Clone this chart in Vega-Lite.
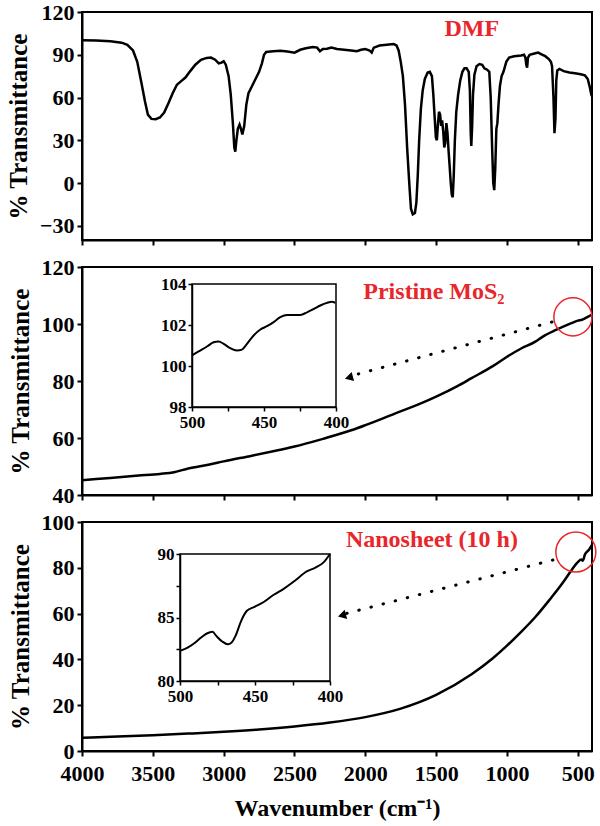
{
  "$schema": "https://vega.github.io/schema/vega-lite/v6.json",
  "background": "white",
  "padding": {"left": 5, "top": 0, "right": 5, "bottom": 0},
  "spacing": 27,
  "bounds": "flush",
  "datasets": {
    "dmf": [
      {"wn":4000,"T":100.2},{"wn":3900,"T":100},{"wn":3800,"T":99.5},{"wn":3720,"T":98.5},{"wn":3680,"T":97},{"wn":3640,"T":93},{"wn":3610,"T":85},{"wn":3580,"T":70},{"wn":3555,"T":57},{"wn":3535,"T":48},{"wn":3510,"T":45},{"wn":3480,"T":44.8},{"wn":3450,"T":46},{"wn":3420,"T":49.5},{"wn":3390,"T":56},{"wn":3360,"T":63},{"wn":3330,"T":69},{"wn":3300,"T":71.5},{"wn":3270,"T":74},{"wn":3240,"T":78},{"wn":3200,"T":83},{"wn":3160,"T":86.5},{"wn":3120,"T":87.8},{"wn":3090,"T":88},{"wn":3060,"T":86.5},{"wn":3035,"T":84},{"wn":3015,"T":84.5},{"wn":3000,"T":85.5},{"wn":2985,"T":83},{"wn":2965,"T":75},{"wn":2950,"T":62},{"wn":2935,"T":42},{"wn":2925,"T":25},{"wn":2918,"T":22},{"wn":2910,"T":30},{"wn":2900,"T":38},{"wn":2888,"T":41},{"wn":2878,"T":38},{"wn":2868,"T":34},{"wn":2855,"T":40},{"wn":2840,"T":55},{"wn":2825,"T":63},{"wn":2810,"T":66},{"wn":2790,"T":70},{"wn":2770,"T":74},{"wn":2750,"T":78},{"wn":2730,"T":84},{"wn":2715,"T":90},{"wn":2700,"T":92},{"wn":2650,"T":92.5},{"wn":2600,"T":92.8},{"wn":2550,"T":92.2},{"wn":2500,"T":91.5},{"wn":2460,"T":93.5},{"wn":2420,"T":94.5},{"wn":2370,"T":95.5},{"wn":2340,"T":95},{"wn":2320,"T":92.5},{"wn":2300,"T":94},{"wn":2270,"T":94.2},{"wn":2240,"T":95},{"wn":2200,"T":94},{"wn":2150,"T":93.5},{"wn":2100,"T":93},{"wn":2060,"T":92.5},{"wn":2030,"T":93.5},{"wn":2000,"T":94},{"wn":1970,"T":93},{"wn":1955,"T":91.5},{"wn":1940,"T":95},{"wn":1900,"T":96.5},{"wn":1850,"T":97},{"wn":1800,"T":97.5},{"wn":1780,"T":96.5},{"wn":1765,"T":93},{"wn":1750,"T":85},{"wn":1735,"T":75},{"wn":1720,"T":55},{"wn":1705,"T":25},{"wn":1690,"T":0},{"wn":1678,"T":-18},{"wn":1665,"T":-22},{"wn":1650,"T":-21},{"wn":1640,"T":-14},{"wn":1630,"T":5},{"wn":1620,"T":30},{"wn":1608,"T":52},{"wn":1595,"T":65},{"wn":1580,"T":73},{"wn":1560,"T":77.5},{"wn":1545,"T":78},{"wn":1530,"T":75},{"wn":1520,"T":62},{"wn":1510,"T":45},{"wn":1502,"T":32},{"wn":1495,"T":30},{"wn":1487,"T":42},{"wn":1480,"T":50},{"wn":1472,"T":48},{"wn":1465,"T":40},{"wn":1458,"T":44},{"wn":1450,"T":36},{"wn":1443,"T":25},{"wn":1436,"T":28},{"wn":1428,"T":42},{"wn":1420,"T":35},{"wn":1412,"T":22},{"wn":1405,"T":12},{"wn":1397,"T":0},{"wn":1390,"T":-8},{"wn":1383,"T":-10},{"wn":1376,"T":5},{"wn":1368,"T":30},{"wn":1358,"T":50},{"wn":1345,"T":62},{"wn":1330,"T":72},{"wn":1315,"T":78},{"wn":1300,"T":80.5},{"wn":1285,"T":80.5},{"wn":1270,"T":78},{"wn":1262,"T":65},{"wn":1256,"T":35},{"wn":1252,"T":26},{"wn":1246,"T":40},{"wn":1240,"T":62},{"wn":1230,"T":76},{"wn":1215,"T":82},{"wn":1195,"T":83.5},{"wn":1175,"T":83},{"wn":1160,"T":80.5},{"wn":1140,"T":79.5},{"wn":1125,"T":78},{"wn":1115,"T":60},{"wn":1105,"T":25},{"wn":1097,"T":0},{"wn":1090,"T":-5},{"wn":1083,"T":10},{"wn":1075,"T":38},{"wn":1068,"T":42},{"wn":1060,"T":55},{"wn":1050,"T":68},{"wn":1038,"T":75},{"wn":1025,"T":78},{"wn":1005,"T":85},{"wn":985,"T":88},{"wn":950,"T":89},{"wn":900,"T":89.5},{"wn":880,"T":90},{"wn":870,"T":88},{"wn":864,"T":83},{"wn":858,"T":81},{"wn":852,"T":88},{"wn":840,"T":90},{"wn":800,"T":91},{"wn":780,"T":91.5},{"wn":760,"T":90.5},{"wn":730,"T":89},{"wn":705,"T":87},{"wn":690,"T":85},{"wn":682,"T":82},{"wn":672,"T":60},{"wn":665,"T":35},{"wn":658,"T":45},{"wn":652,"T":72},{"wn":645,"T":79},{"wn":630,"T":80},{"wn":600,"T":78.5},{"wn":560,"T":77.5},{"wn":520,"T":77},{"wn":480,"T":76.3},{"wn":450,"T":75.5},{"wn":430,"T":73},{"wn":415,"T":67},{"wn":405,"T":62},{"wn":400,"T":61}
    ],
    "mos2": [
      {"wn":4000,"T":45.2},{"wn":3800,"T":46.0},{"wn":3600,"T":46.8},{"wn":3450,"T":47.4},{"wn":3350,"T":48.0},{"wn":3250,"T":49.3},{"wn":3100,"T":50.7},{"wn":3000,"T":51.8},{"wn":2800,"T":53.8},{"wn":2600,"T":55.9},{"wn":2500,"T":57.0},{"wn":2300,"T":59.7},{"wn":2100,"T":62.7},{"wn":2000,"T":64.5},{"wn":1800,"T":68.4},{"wn":1600,"T":72.3},{"wn":1500,"T":74.5},{"wn":1350,"T":78.2},{"wn":1250,"T":81.0},{"wn":1100,"T":85.2},{"wn":1000,"T":88.5},{"wn":900,"T":91.4},{"wn":800,"T":93.8},{"wn":750,"T":95.5},{"wn":650,"T":98.0},{"wn":550,"T":100.2},{"wn":500,"T":101.2},{"wn":470,"T":101.5},{"wn":450,"T":102.0},{"wn":430,"T":102.5},{"wn":410,"T":103.0},{"wn":400,"T":103.2}
    ],
    "nano": [
      {"wn":4000,"T":5.8},{"wn":3750,"T":6.3},{"wn":3500,"T":6.9},{"wn":3250,"T":7.6},{"wn":3000,"T":8.4},{"wn":2750,"T":9.4},{"wn":2500,"T":10.7},{"wn":2250,"T":12.4},{"wn":2000,"T":14.8},{"wn":1750,"T":18.5},{"wn":1500,"T":24.5},{"wn":1250,"T":33.5},{"wn":1100,"T":40.5},{"wn":1000,"T":46},{"wn":900,"T":52},{"wn":800,"T":58.5},{"wn":700,"T":66},{"wn":600,"T":74},{"wn":550,"T":78.5},{"wn":500,"T":82.5},{"wn":475,"T":83.6},{"wn":465,"T":83.1},{"wn":450,"T":85.8},{"wn":420,"T":88},{"wn":400,"T":90}
    ],
    "inset2": [
      {"wn":500,"T":100.52},{"wn":495.4,"T":100.71},{"wn":489.6,"T":100.95},{"wn":485,"T":101.16},{"wn":481.5,"T":101.2},{"wn":478,"T":101.08},{"wn":473.4,"T":100.87},{"wn":468.8,"T":100.76},{"wn":465.3,"T":100.8},{"wn":461.8,"T":101.08},{"wn":457.2,"T":101.49},{"wn":452.5,"T":101.78},{"wn":447.9,"T":101.94},{"wn":443.3,"T":102.14},{"wn":438.7,"T":102.38},{"wn":434,"T":102.49},{"wn":429.4,"T":102.49},{"wn":424.8,"T":102.49},{"wn":420.1,"T":102.62},{"wn":415.5,"T":102.78},{"wn":410.9,"T":102.95},{"wn":406.3,"T":103.08},{"wn":402.8,"T":103.14},{"wn":400.5,"T":103.08}
    ],
    "inset3": [
      {"wn":500,"T":82.37},{"wn":494.9,"T":82.63},{"wn":489.8,"T":83.03},{"wn":486,"T":83.42},{"wn":482.1,"T":83.74},{"wn":478.3,"T":83.87},{"wn":475.8,"T":83.55},{"wn":471.9,"T":83.11},{"wn":468.1,"T":82.89},{"wn":465.6,"T":83.03},{"wn":463,"T":83.55},{"wn":459.2,"T":84.74},{"wn":455.4,"T":85.53},{"wn":450.3,"T":85.84},{"wn":443.9,"T":86.24},{"wn":437.5,"T":86.79},{"wn":431.1,"T":87.24},{"wn":423.5,"T":87.89},{"wn":415.8,"T":88.61},{"wn":409.4,"T":88.95},{"wn":404.3,"T":89.34},{"wn":400,"T":90.0}
    ],
    "one": [{}]
  },
  "vconcat": [
    {
      "width": 510, "height": 228,
      "layer": [
        {
          "data": {"name": "dmf"},
          "mark": {"type": "line", "color": "black", "strokeWidth": 2.5},
          "encoding": {
            "x": {"field": "wn", "type": "quantitative", "scale": {"domain": [400, 4000], "reverse": true, "nice": false, "zero": false},
                  "axis": {"title": null, "labels": false, "values": [4000,3750,3500,3250,3000,2750,2500,2250,2000,1750,1500,1250,1000,750,500]}},
            "y": {"field": "T", "type": "quantitative", "scale": {"domain": [-40, 120], "nice": false, "zero": false},
                  "axis": {"title": "% Transmittance", "values": [-30,-15,0,15,30,45,60,75,90,105,120], "labelExpr": "datum.value % 30 == 0 ? datum.label : ''"}}
          }
        },
        {
          "data": {"values": [{"label": "DMF", "wn": 1248, "T": 108}]},
          "mark": {"type": "text", "color": "#e8262b", "font": "Liberation Serif", "fontWeight": "bold", "fontSize": 24, "align": "center", "baseline": "middle"},
          "encoding": {"x": {"field": "wn", "type": "quantitative"}, "y": {"field": "T", "type": "quantitative"}, "text": {"field": "label"}}
        }
      ]
    },
    {
      "width": 510, "height": 228,
      "layer": [
        {
          "layer": [
            {
              "data": {"name": "mos2"},
              "mark": {"type": "line", "color": "black", "strokeWidth": 2.5, "interpolate": "monotone"},
              "encoding": {
                "x": {"field": "wn", "type": "quantitative", "scale": {"domain": [400, 4000], "reverse": true, "nice": false, "zero": false},
                      "axis": {"title": null, "labels": false, "values": [4000,3750,3500,3250,3000,2750,2500,2250,2000,1750,1500,1250,1000,750,500]}},
                "y": {"field": "T", "type": "quantitative", "scale": {"domain": [40, 120], "nice": false, "zero": false},
                      "axis": {"title": "% Transmittance", "values": [40,50,60,70,80,90,100,110,120], "labelExpr": "datum.value % 20 == 0 ? datum.label : ''"}}
              }
            },
            {
              "data": {"values": [{"label": "Pristine MoS₂", "wn": 1516, "T": 111.2}]},
              "mark": {"type": "text", "color": "#e8262b", "font": "Liberation Serif", "fontWeight": "bold", "fontSize": 24, "align": "center", "baseline": "middle"},
              "encoding": {"x": {"field": "wn", "type": "quantitative"}, "y": {"field": "T", "type": "quantitative"}, "text": {"field": "label"}}
            },
            {
              "data": {"name": "one"},
              "mark": {"type": "point", "shape": "circle", "size": 1450, "filled": false, "color": "#e8262b", "strokeWidth": 1.5, "opacity": 1},
              "encoding": {"x": {"datum": 535}, "y": {"datum": 102.5}}
            },
            {
              "data": {"name": "one"},
              "mark": {"type": "rule", "color": "black", "strokeWidth": 3, "strokeDash": [0.5, 12], "strokeCap": "round"},
              "encoding": {"x": {"datum": 683}, "y": {"datum": 100.7}, "x2": {"datum": 2100}, "y2": {"datum": 81.8}}
            },
            {
              "data": {"name": "one"},
              "mark": {"type": "point", "shape": "triangle-left", "size": 90, "filled": true, "color": "black", "angle": 345, "opacity": 1},
              "encoding": {"x": {"datum": 2116}, "y": {"datum": 81.2}}
            }
          ]
        },
        {
          "layer": [
            {
              "data": {"name": "inset2"},
              "mark": {"type": "line", "color": "black", "strokeWidth": 2, "interpolate": "monotone"},
              "encoding": {
                "x": {"field": "wn", "type": "quantitative", "scale": {"domain": [400, 500], "reverse": true, "range": [110, 254], "nice": false, "zero": false},
                      "axis": {"orient": "bottom", "offset": -88, "title": null, "values": [500,475,450,425,400], "labelExpr": "datum.value % 50 == 0 ? datum.label : ''", "labelFontSize": 17, "domainWidth": 1.5, "tickWidth": 1.5, "tickSize": 4, "labelPadding": 3}},
                "y": {"field": "T", "type": "quantitative", "scale": {"domain": [98, 104], "range": [140, 17], "nice": false, "zero": false},
                      "axis": {"orient": "left", "offset": -110, "title": null, "values": [98,99,100,101,102,103,104], "labelExpr": "datum.value % 2 == 0 ? datum.label : ''", "labelFontSize": 17, "domainWidth": 1.5, "tickWidth": 1.5, "tickSize": 4, "labelPadding": 2}}
              }
            },
            {
              "data": {"name": "one"},
              "mark": {"type": "rect", "filled": false, "stroke": "black", "strokeWidth": 1.5},
              "encoding": {"x": {"datum": 500}, "x2": {"datum": 400}, "y": {"datum": 98}, "y2": {"datum": 104}}
            }
          ]
        }
      ],
      "resolve": {"scale": {"x": "independent", "y": "independent"}, "axis": {"x": "independent", "y": "independent"}}
    },
    {
      "width": 510, "height": 229,
      "layer": [
        {
          "layer": [
            {
              "data": {"name": "nano"},
              "mark": {"type": "line", "color": "black", "strokeWidth": 2.5, "interpolate": "monotone"},
              "encoding": {
                "x": {"field": "wn", "type": "quantitative", "scale": {"domain": [400, 4000], "reverse": true, "nice": false, "zero": false},
                      "axis": {"title": "Wavenumber (cm⁻¹)", "titleFontSize": 24, "titlePadding": 12, "format": "d", "labelPadding": 7, "values": [4000,3750,3500,3250,3000,2750,2500,2250,2000,1750,1500,1250,1000,750,500], "labelExpr": "datum.value % 500 == 0 ? datum.label : ''"}},
                "y": {"field": "T", "type": "quantitative", "scale": {"domain": [0, 100], "nice": false, "zero": false},
                      "axis": {"title": "% Transmittance", "values": [0,10,20,30,40,50,60,70,80,90,100], "labelExpr": "datum.value % 20 == 0 ? datum.label : ''"}}
              }
            },
            {
              "data": {"values": [{"label": "Nanosheet (10 h)", "wn": 1530, "T": 92.1}]},
              "mark": {"type": "text", "color": "#e8262b", "font": "Liberation Serif", "fontWeight": "bold", "fontSize": 24, "align": "center", "baseline": "middle"},
              "encoding": {"x": {"field": "wn", "type": "quantitative"}, "y": {"field": "T", "type": "quantitative"}, "text": {"field": "label"}}
            },
            {
              "data": {"name": "one"},
              "mark": {"type": "point", "shape": "circle", "size": 1600, "filled": false, "color": "#e8262b", "strokeWidth": 1.5, "opacity": 1},
              "encoding": {"x": {"datum": 514}, "y": {"datum": 86.9}}
            },
            {
              "data": {"name": "one"},
              "mark": {"type": "rule", "color": "black", "strokeWidth": 3, "strokeDash": [0.5, 12], "strokeCap": "round"},
              "encoding": {"x": {"datum": 676}, "y": {"datum": 83.4}, "x2": {"datum": 2150}, "y2": {"datum": 59.8}}
            },
            {
              "data": {"name": "one"},
              "mark": {"type": "point", "shape": "triangle-left", "size": 90, "filled": true, "color": "black", "angle": 345, "opacity": 1},
              "encoding": {"x": {"datum": 2165}, "y": {"datum": 59.2}}
            }
          ]
        },
        {
          "layer": [
            {
              "data": {"name": "inset3"},
              "mark": {"type": "line", "color": "black", "strokeWidth": 2, "interpolate": "monotone"},
              "encoding": {
                "x": {"field": "wn", "type": "quantitative", "scale": {"domain": [400, 500], "reverse": true, "range": [98, 248], "nice": false, "zero": false},
                      "axis": {"orient": "bottom", "offset": -70, "title": null, "values": [500,475,450,425,400], "labelExpr": "datum.value % 50 == 0 ? datum.label : ''", "labelFontSize": 17, "domainWidth": 1.5, "tickWidth": 1.5, "tickSize": 4, "labelPadding": 3}},
                "y": {"field": "T", "type": "quantitative", "scale": {"domain": [80, 90], "range": [159, 32], "nice": false, "zero": false},
                      "axis": {"orient": "left", "offset": -98, "title": null, "values": [80,82.5,85,87.5,90], "labelExpr": "datum.value % 5 == 0 ? datum.label : ''", "labelFontSize": 17, "domainWidth": 1.5, "tickWidth": 1.5, "tickSize": 4, "labelPadding": 2}}
              }
            },
            {
              "data": {"name": "one"},
              "mark": {"type": "rect", "filled": false, "stroke": "black", "strokeWidth": 1.5},
              "encoding": {"x": {"datum": 500}, "x2": {"datum": 400}, "y": {"datum": 80}, "y2": {"datum": 90}}
            }
          ]
        }
      ],
      "resolve": {"scale": {"x": "independent", "y": "independent"}, "axis": {"x": "independent", "y": "independent"}}
    }
  ],
  "config": {
    "view": {"stroke": "black", "strokeWidth": 2},
    "axis": {
      "labelFont": "Liberation Serif", "labelFontWeight": "bold", "labelFontSize": 22, "labelColor": "black",
      "titleFont": "Liberation Serif", "titleFontWeight": "bold", "titleFontSize": 25, "titleColor": "black",
      "domainColor": "black", "domainWidth": 2, "tickColor": "black", "tickWidth": 2, "tickSize": 5,
      "grid": false, "labelPadding": 3, "titlePadding": 8, "labelFlush": false, "labelOverlap": false
    }
  }
}
